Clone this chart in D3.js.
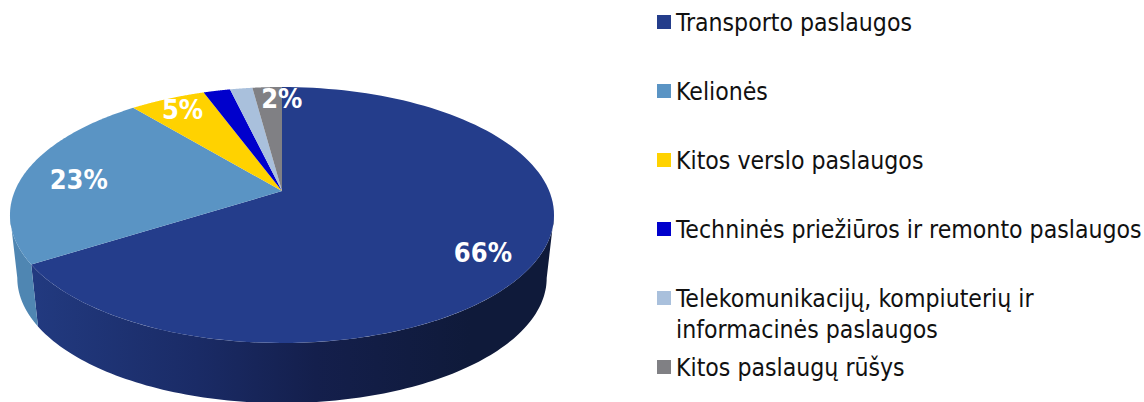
<!DOCTYPE html>
<html><head><meta charset="utf-8">
<script src="https://cdn.jsdelivr.net/npm/d3@7/dist/d3.min.js"></script>
<style>html,body{margin:0;background:#fff}svg{display:block}</style></head>
<body><svg id="c" width="1144" height="402"></svg>
<script>
const categories = ["Transporto paslaugos","Kelionės","Kitos verslo paslaugos","Techninės priežiūros ir remonto paslaugos",["Telekomunikacijų, kompiuterių ir","informacinės paslaugos"],"Kitos paslaugų rūšys"];
const values = [66,23,5.4,1.9,1.6,2.1];
const labels = ["66%","23%","5%","","","2%"];
const colors = ["#243d8b","#5a94c4","#ffd200","#0000cc","#a9c0dc","#808084"];
const wallColors = ["url(#navyWall)","#4f86b2","#d9b000","#0000a0","#90a3bb","#6c6c70"];
const labelRadius = [0.8,0.78,0.85,0,0,0.87];
const labelNudge = [[-1,10],[-2,3],[0,-2],[0,0],[0,0],[13,-1]];

const svg = d3.select("#c");
const P = 0.1875;
// perspective projection of a unit disc; t is clockwise from 12 o'clock
const project = (o) => (t, r = 1) => {
  const u = r * Math.sin(t), v = -r * Math.cos(t), w = 1 - P * v;
  return [o.cx + o.k * u / w, o.cy + o.m * v / w];
};
const topRim = project({cx:282, cy:191, k:267.2, m:123.5});
const botRim = project({cx:282, cy:254.6, k:260, m:120.6});

const arcs = d3.pie().sort(null).value(d => d)(values);
const grad = svg.append("defs").append("linearGradient").attr("id","navyWall")
  .attr("gradientUnits","userSpaceOnUse").attr("x1",30).attr("x2",470).attr("y1",0).attr("y2",0);
[[0,"#223a80"],[0.38,"#1a2b66"],[0.65,"#141f4c"],[1,"#0f1a3a"]].forEach(s =>
  grad.append("stop").attr("offset",s[0]).attr("stop-color",s[1]));

const line = d3.line();
const sweep = (a0, a1) => d3.range(0, 121).map(i => a0 + (a1 - a0) * i / 120);
// the wall is only seen between the two points where the rim turns back
const tangentR = Math.acos(-P), tangentL = 2 * Math.PI - tangentR;
const seen = arcs.filter(a => a.endAngle > tangentR && a.startAngle < tangentL);

const g = svg.append("g");
g.selectAll("path.wall").data(seen).join("path").attr("class","wall")
  .attr("fill",d=>wallColors[d.index])
  .attr("d",d=>{
    const s=sweep(Math.max(d.startAngle,tangentR),Math.min(d.endAngle,tangentL));
    return line([...s.map(t=>topRim(t)),...s.slice().reverse().map(t=>botRim(t))])+"Z";
  });
g.selectAll("path.face").data(arcs).join("path").attr("class","face")
  .attr("fill",d=>colors[d.index])
  .attr("d",d=>line([topRim(0,0),...sweep(d.startAngle,d.endAngle).map(t=>topRim(t))])+"Z");

g.selectAll("text").data(arcs.filter(d=>labels[d.index])).join("text")
  .attr("x",d=>topRim((d.startAngle+d.endAngle)/2,labelRadius[d.index])[0]+labelNudge[d.index][0])
  .attr("y",d=>topRim((d.startAngle+d.endAngle)/2,labelRadius[d.index])[1]+labelNudge[d.index][1])
  .attr("text-anchor","middle").attr("dy","0.36em")
  .attr("font-family","'DejaVu Sans Condensed','DejaVu Sans'").attr("font-stretch","condensed")
  .attr("font-weight","bold").attr("font-size",27).attr("fill","#fff")
  .text(d=>labels[d.index]);

const legendY = d3.scalePoint().domain(d3.range(categories.length)).range([22,367]);
const lg = svg.append("g").selectAll("g").data(categories).join("g")
  .attr("transform",(d,i)=>`translate(657,${legendY(i)})`);
lg.append("rect").attr("x",0).attr("y",-7).attr("width",14).attr("height",14).attr("fill",(d,i)=>colors[i]);
lg.each(function(d){
  const lines = Array.isArray(d) ? d : [d];
  d3.select(this).selectAll("text").data(lines).join("text")
    .attr("x",19).attr("y",(l,j)=>8.5+j*31)
    .attr("font-family","'DejaVu Sans Condensed','DejaVu Sans'").attr("font-stretch","condensed")
    .attr("font-size",24.6).attr("fill","#111").text(l=>l);
});
</script></body></html>
